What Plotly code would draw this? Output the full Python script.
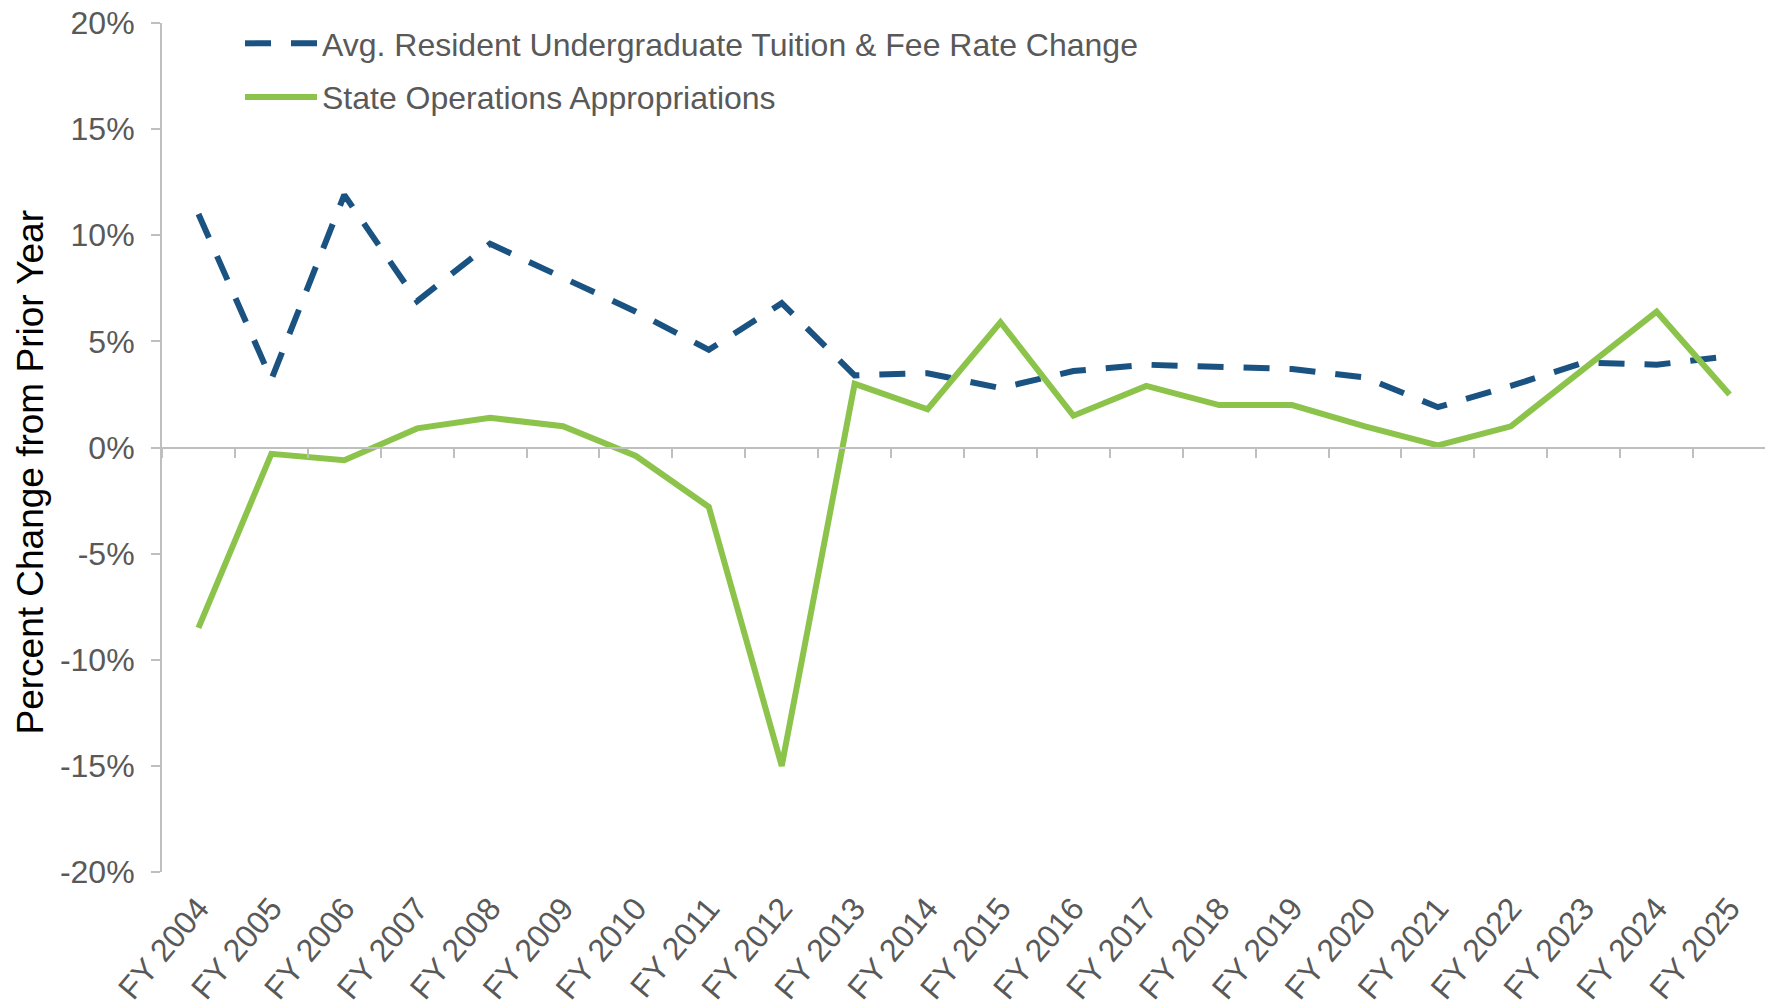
import plotly.graph_objects as go

years = ["FY 2004", "FY 2005", "FY 2006", "FY 2007", "FY 2008", "FY 2009", "FY 2010",
         "FY 2011", "FY 2012", "FY 2013", "FY 2014", "FY 2015", "FY 2016", "FY 2017",
         "FY 2018", "FY 2019", "FY 2020", "FY 2021", "FY 2022", "FY 2023", "FY 2024", "FY 2025"]
tuition_change = [11.0, 3.2, 11.9, 6.9, 9.6, 8.0, 6.4, 4.6, 6.8, 3.4, 3.5, 2.8, 3.6, 3.9,
                  3.8, 3.7, 3.3, 1.9, 2.9, 4.0, 3.9, 4.3]
state_approp_change = [-8.5, -0.3, -0.6, 0.9, 1.4, 1.0, -0.4, -2.8, -15.0, 3.0, 1.8, 5.9, 1.5,
                       2.9, 2.0, 2.0, 1.0, 0.1, 1.0, 3.7, 6.4, 2.5]
y_tickvals = [-20, -15, -10, -5, 0, 5, 10, 15, 20]
y_ticktext = ["-20%", "-15%", "-10%", "-5%", "0%", "5%", "10%", "15%", "20%"]

FONT = "Liberation Sans, Arial, sans-serif"
GREY = "#595959"
AXIS = "#BFBFBF"
OFF = 8  # page body margin
W, H = 1773 - OFF, 1008 - OFF
L, R, T, B = 162 - OFF, 7, 23 - OFF, 136
PW = W - L - R
PH = H - T - B

fig = go.Figure()
fig.add_trace(go.Scatter(
    x=years, y=tuition_change, mode="lines", xaxis="x", yaxis="y",
    name="Avg. Resident Undergraduate Tuition & Fee Rate Change", legendgroup="a",
    line=dict(color="#1A5382", width=6, dash="26px,20px"),
))
fig.add_trace(go.Scatter(
    x=years, y=state_approp_change, mode="lines", xaxis="x2", yaxis="y",
    name="State Operations Appropriations", legendgroup="b",
    line=dict(color="#8CC34B", width=6),
))

fig.update_layout(
    width=W, height=H,
    margin=dict(l=L, r=R, t=T, b=B, autoexpand=False),
    paper_bgcolor="white", plot_bgcolor="white",
    font=dict(family=FONT, size=32, color=GREY),
    showlegend=True,
    legend=dict(
        x=(240 - OFF - L) / PW, y=1.0 + 7 / PH, xanchor="left", yanchor="top",
        bgcolor="rgba(0,0,0,0)", borderwidth=0,
        font=dict(family=FONT, size=32, color=GREY),
        itemwidth=72, traceorder="grouped", tracegroupgap=9,
    ),
    xaxis=dict(
        type="category", categoryarray=years, range=[-0.5, len(years) - 0.5],
        tickmode="array", tickvals=years, ticktext=years,
        showline=False, ticks="", showgrid=False, zeroline=False,
        tickangle=-50, tickfont=dict(family=FONT, size=32, color=GREY),
        ticklabelstandoff=10, ticklabeloverflow="allow",
    ),
    xaxis2=dict(
        type="category", categoryarray=years, range=[-0.5, len(years) - 0.5],
        overlaying="x", anchor="free", position=0.5, side="bottom",
        showline=True, linecolor=AXIS, linewidth=2,
        ticks="outside", tickson="boundaries", ticklen=9, tickwidth=2, tickcolor=AXIS,
        showticklabels=False, showgrid=False, zeroline=False,
    ),
    yaxis=dict(
        range=[-20, 20], tickvals=y_tickvals, ticktext=y_ticktext,
        showline=True, linecolor=AXIS, linewidth=2,
        ticks="outside", ticklen=9, tickwidth=2, tickcolor=AXIS,
        showgrid=False, zeroline=False,
        tickfont=dict(family=FONT, size=32, color=GREY),
        ticklabelstandoff=10, ticklabeloverflow="allow",
    ),
    annotations=[dict(
        text="Percent Change from Prior Year", textangle=-90,
        xref="paper", yref="paper", x=0, y=0.5, xanchor="center", yanchor="middle",
        xshift=30 - 162, yshift=-25, showarrow=False,
        font=dict(family=FONT, size=37, color="black"),
    )],
)

fig.write_html("out.html")
